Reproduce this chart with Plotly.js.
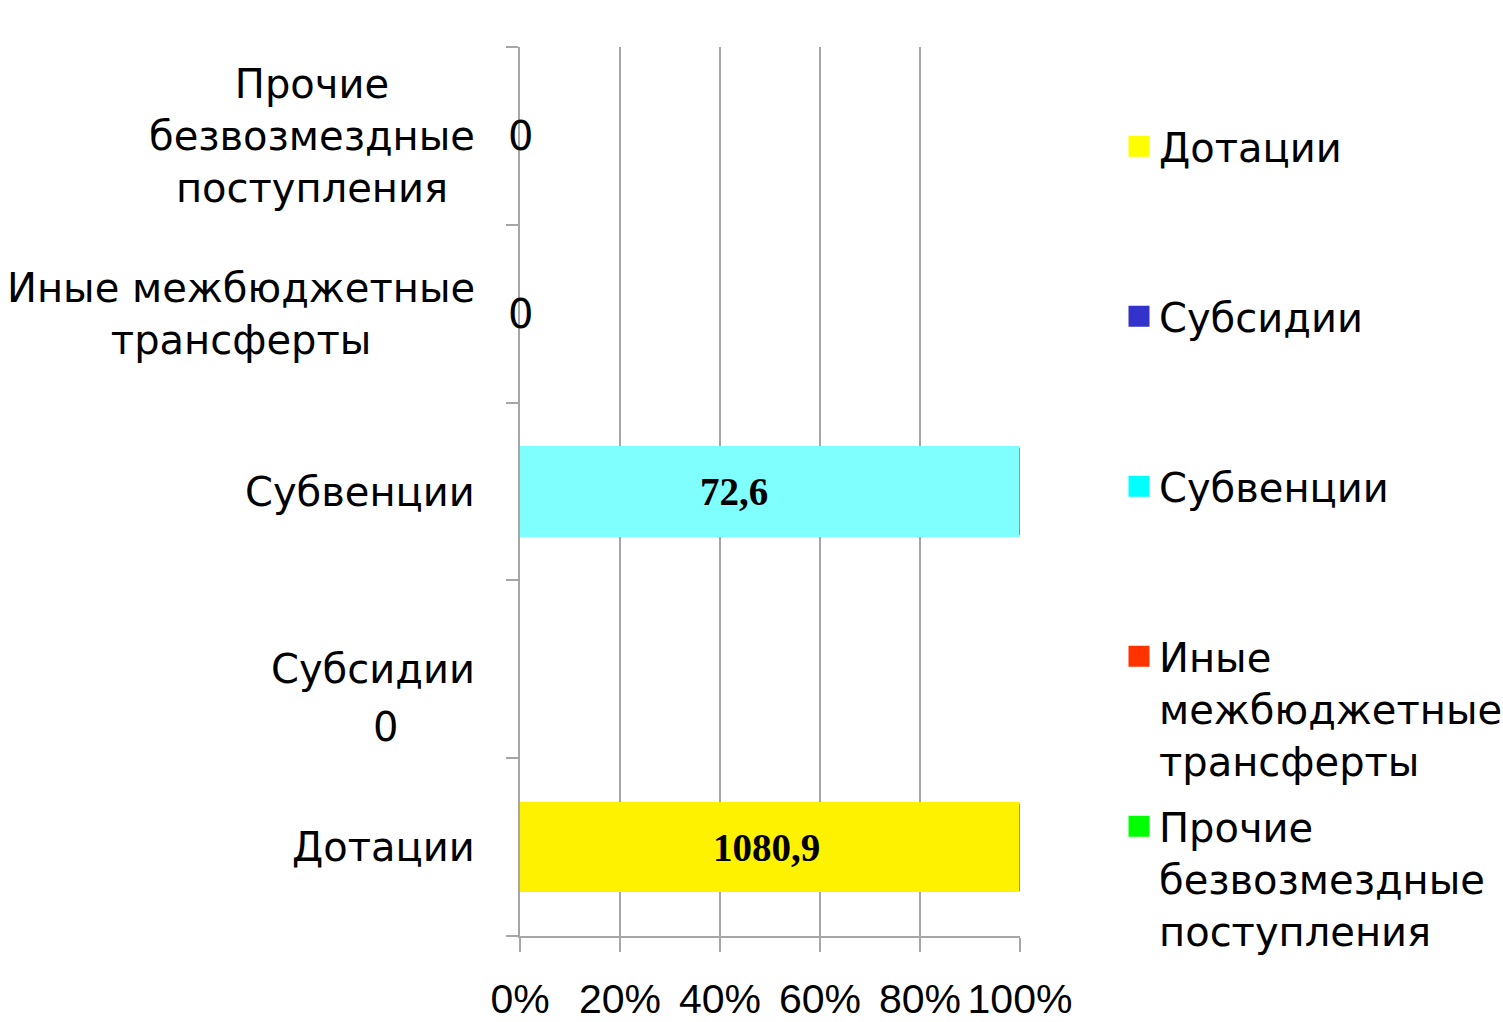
<!DOCTYPE html>
<html><head><meta charset="utf-8">
<script src="https://cdn.plot.ly/plotly-3.0.1.min.js"></script>
<style>html,body{margin:0;padding:0;background:#fff}</style>
</head><body><div id="chart" style="width:1503px;height:1022px"></div>
<script>
const categories = ['Дотации', 'Субсидии', 'Субвенции', 'Иные межбюджетные трансферты', 'Прочие безвозмездные поступления'];
const categoryLabels = ['Дотации', 'Субсидии', 'Субвенции', 'Иные межбюджетные<br>трансферты', 'Прочие<br>безвозмездные<br>поступления'];
const seriesNames = ['Дотации', 'Субсидии', 'Субвенции', 'Иные межбюджетные трансферты', 'Прочие безвозмездные поступления'];
const legendLabels = ['Дотации', 'Субсидии', 'Субвенции', 'Иные<br>межбюджетные<br>трансферты', 'Прочие<br>безвозмездные<br>поступления'];
const values = [1080.9, 0, 72.6, 0, 0];
const barColors = ['#FFF200', '#3333CC', '#80FFFF', '#FF3300', '#00FF00'];
const legendColors = ['#FFFF00', '#3333CC', '#00FFFF', '#FF3300', '#00FF00'];
const xTickVals = [0, 20, 40, 60, 80, 100];
const xTickText = ['0%', '20%', '40%', '60%', '80%', '100%'];

const FONT = 'Liberation Sans, Arial, sans-serif';
const LABEL_FONT = 'DejaVu Sans, sans-serif';
const GRID = '#A6A6A6';

function pad3(s) {
  const n = s.split('<br>').length;
  let out = s;
  for (let k = n; k < 3; k++) out += '<br>\u00a0';
  return out;
}
function fmt(v) { return String(v).replace('.', ','); }

const barTraces = seriesNames.map((name, i) => ({
  type: 'bar',
  orientation: 'h',
  name: name,
  y: categories,
  x: categories.map((c, j) => (j === i ? values[i] : 0)),
  marker: { color: barColors[i], line: { color: barColors[i], width: 3 } },
  showlegend: false,
  hoverinfo: 'skip'
}));

const legendTraces = seriesNames.map((name, i) => ({
  type: 'scatter',
  mode: 'markers',
  name: pad3(legendLabels[i]),
  legendgroup: 'g' + i,
  x: [null], y: [null],
  marker: { symbol: 'square', size: 16, color: legendColors[i], line: { color: legendColors[i], width: 5 } },
  showlegend: true,
  hoverinfo: 'skip'
}));

const annotations = [];
categories.forEach((c, i) => {
  annotations.push({
    xref: 'paper', yref: 'y', x: 0, y: c, xshift: -43,
    xanchor: 'right', yanchor: 'middle', align: 'center',
    text: categoryLabels[i], showarrow: false,
    font: { family: LABEL_FONT, size: 40, color: '#000' }
  });
});
values.forEach((v, i) => {
  if (v > 0) {
    annotations.push({
      xref: 'x', yref: 'y', x: 50, y: categories[i],
      xshift: i === 2 ? -36 : -4,
      xanchor: 'center', yanchor: 'middle', showarrow: false,
      text: '<b>' + fmt(v) + '</b>',
      font: { family: 'Liberation Serif, Times New Roman, serif', size: 39, color: '#000' }
    });
  } else {
    const special = i === 1;
    annotations.push({
      xref: 'x', yref: 'y', x: 0, y: categories[i],
      xshift: special ? -135 : 0, yshift: special ? -58 : 0,
      xanchor: 'center', yanchor: 'middle', showarrow: false,
      text: fmt(v),
      font: { family: LABEL_FONT, size: 40, color: '#000' }
    });
  }
});

const layout = {
  width: 1503, height: 1022,
  paper_bgcolor: '#fff', plot_bgcolor: '#fff',
  margin: { l: 520, r: 483, t: 47, b: 86, autoexpand: false },
  barmode: 'stack', barnorm: 'percent', bargap: 0.51,
  showlegend: true,
  legend: {
    x: 1.198, xanchor: 'left', y: 0.925, yanchor: 'top',
    valign: 'top', traceorder: 'grouped', tracegroupgap: 11,
    itemsizing: 'trace',
    font: { family: LABEL_FONT, size: 40, color: '#000' },
    bgcolor: 'rgba(0,0,0,0)', borderwidth: 0
  },
  xaxis: {
    range: [0, 100], tickvals: xTickVals, ticktext: xTickText,
    ticks: 'outside', ticklen: 14, tickwidth: 2, tickcolor: GRID,
    showgrid: true, gridcolor: GRID, gridwidth: 1.5,
    showline: true, linecolor: GRID, linewidth: 2,
    zeroline: false, ticklabelstandoff: 12,
    tickfont: { family: FONT, size: 41, color: '#000' },
    fixedrange: true
  },
  yaxis: {
    type: 'category', categoryorder: 'array', categoryarray: categories,
    range: [-0.5, 4.5], showticklabels: false,
    ticks: 'outside', tickson: 'boundaries', ticklen: 12, tickwidth: 2, tickcolor: GRID,
    showgrid: false, showline: true, linecolor: GRID, linewidth: 2,
    zeroline: false, fixedrange: true
  },
  annotations: annotations
};

Plotly.newPlot('chart', barTraces.concat(legendTraces), layout, { displayModeBar: false, staticPlot: true });
</script>
</body></html>
